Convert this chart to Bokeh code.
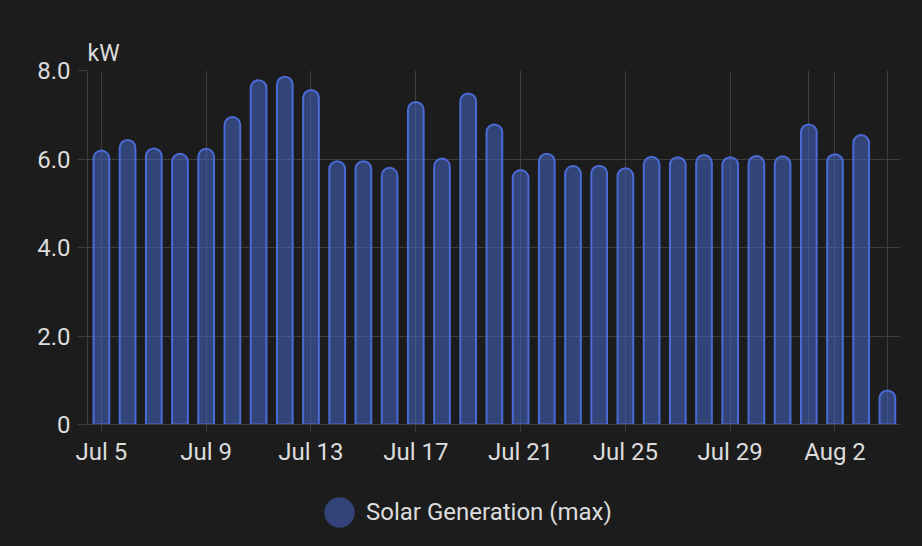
import numpy as np
import pandas as pd
from bokeh.plotting import figure
from bokeh.layouts import column
from bokeh.models import (ColumnDataSource, Range1d, FixedTicker,
                          Legend, LegendItem, Arrow)
from bokeh.embed import file_html
from bokeh.resources import INLINE

# ---- data ----
days = pd.date_range("2024-07-05", "2024-08-04", freq="D")
solar_max_kw = [6.19, 6.43, 6.24, 6.12, 6.23, 6.95, 7.78, 7.86, 7.56, 5.95,
                5.95, 5.80, 7.29, 6.01, 7.48, 6.78, 5.75, 6.12, 5.84, 5.85,
                5.79, 6.05, 6.04, 6.09, 6.04, 6.07, 6.06, 6.78, 6.11, 6.54,
                0.77]
label_days = ["2024-07-05", "2024-07-09", "2024-07-13", "2024-07-17",
              "2024-07-21", "2024-07-25", "2024-07-29", "2024-08-02"]
grid_days = label_days + ["2024-08-01", "2024-08-04"]
y_ticks = [0, 2, 4, 6, 8]
y_labels = ["0", "2.0", "4.0", "6.0", "8.0"]
series_name = "Solar Generation (max)"
unit = "kW"

BG = "#1c1c1c"
GRID = "#3d3d3d"
TXT = "#dcdcdc"
BLUE = "#4a6bd6"
FONT = "Roboto"
FS = "24px"

day_index = {d.strftime("%Y-%m-%d"): i for i, d in enumerate(days)}
src = ColumnDataSource(dict(x=list(range(len(days))), v=solar_max_kw))

p = figure(width=922, height=470, output_backend="svg", toolbar_location=None,
           x_range=Range1d(-0.53, len(days) - 0.5), y_range=Range1d(0, 8),
           min_border_left=87, min_border_right=22, min_border_top=70,
           min_border_bottom=46, background_fill_color=BG,
           border_fill_color=BG, outline_line_color=None)

# unit label as a left-aligned title
p.title.text = unit
p.title.align = "left"
p.title.offset = 0
p.title.standoff = 7
p.title.text_font = FONT
p.title.text_font_size = "23px"
p.title.text_font_style = "normal"
p.title.text_color = TXT

# grid
p.xgrid.ticker = FixedTicker(ticks=[day_index[d] for d in grid_days])
p.ygrid.ticker = FixedTicker(ticks=y_ticks)
for g in (p.xgrid, p.ygrid):
    g.grid_line_color = GRID
    g.grid_line_width = 1

# bars
p.vbar(x="x", top="v", bottom=0, width=0.6, source=src,
       fill_color=BLUE, fill_alpha=0.5, line_color=BLUE, line_width=2,
       border_radius=(8, 8, 0, 0))

# x axis
xa = p.xaxis[0]
xa.ticker = FixedTicker(ticks=[day_index[d] for d in label_days])
xa.major_label_overrides = {
    day_index[d]: f"{pd.Timestamp(d):%b} {pd.Timestamp(d).day}" for d in label_days}
xa.axis_line_color = GRID
xa.major_tick_line_color = GRID
xa.major_tick_out = 8
xa.major_tick_in = 0
xa.minor_tick_line_color = None
xa.major_label_standoff = 5
xa.major_label_text_font = FONT
xa.major_label_text_font_size = FS
xa.major_label_text_color = TXT

# y axis
ya = p.yaxis[0]
ya.ticker = FixedTicker(ticks=y_ticks)
ya.major_label_overrides = {t: s for t, s in zip(y_ticks, y_labels)}
ya.axis_line_color = GRID
ya.major_tick_line_color = GRID
ya.major_tick_out = 10
ya.major_tick_in = 0
ya.minor_tick_line_color = None
ya.major_label_standoff = 7
ya.major_label_text_font = FONT
ya.major_label_text_font_size = FS
ya.major_label_text_color = TXT

# ---- legend strip below the chart ----
lg = figure(width=922, height=76, output_backend="svg", toolbar_location=None,
            x_range=Range1d(0, 1), y_range=Range1d(0, 1),
            x_axis_type=None, y_axis_type=None, min_border=0,
            min_border_left=0, min_border_right=0, min_border_top=0,
            min_border_bottom=0, background_fill_color=BG,
            border_fill_color=BG, outline_line_color=None)
circ = lg.ellipse(x=[np.nan], y=[np.nan], width=30, height=30,
                  width_units="screen", height_units="screen",
                  fill_color="#33437a", line_color=None)
leg_x, leg_y, glyph = 233, 15, 38
leg = Legend(items=[LegendItem(label=series_name, renderers=[circ])],
             location=(leg_x, leg_y), glyph_width=glyph, glyph_height=glyph,
             padding=0, margin=0, label_standoff=8, border_line_color=None,
             background_fill_alpha=0, label_text_font=FONT,
             label_text_font_size=FS, label_text_color=TXT)
lg.add_layout(leg)

# check mark inside the legend circle (two stroke segments, screen units),
# drawn on the overlay level so that it sits above the legend swatch
cx, cy = leg_x + glyph / 2, leg_y + glyph / 2
check_pts = [(cx - 9, cy - 1.5), (cx - 3.3, cy - 6.5), (cx + 8.5, cy + 3)]
for (x0, y0), (x1, y1) in zip(check_pts[:-1], check_pts[1:]):
    lg.add_layout(Arrow(end=None, x_start=x0, y_start=y0, x_end=x1, y_end=y1,
                        start_units="screen", end_units="screen",
                        line_color=BG, line_width=3, line_cap="round",
                        level="overlay"))

layout = column(p, lg, spacing=0)

html = file_html(layout, INLINE)
html = html.replace("</head>", "<style>html,body{background:#1c1c1c;}</style></head>", 1)
open("out.html", "w").write(html)
